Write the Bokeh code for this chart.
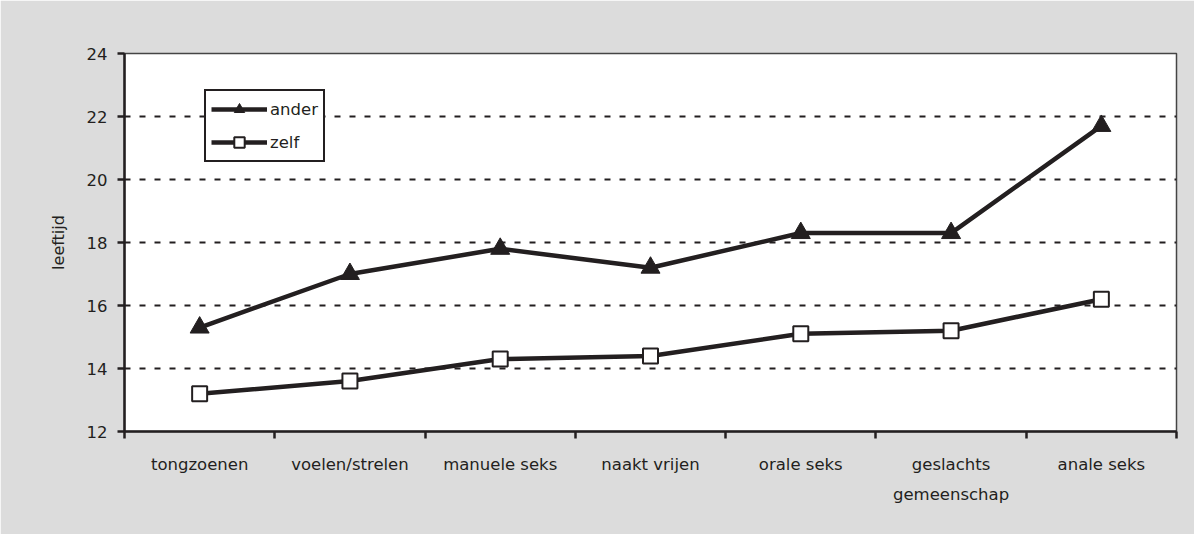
from bokeh.plotting import figure
from bokeh.models import Range1d, FixedTicker, Legend, LegendItem
from bokeh.embed import file_html
from bokeh.resources import INLINE

categories = ["tongzoenen", "voelen/strelen", "manuele seks", "naakt vrijen",
              "orale seks", "geslachts\ngemeenschap", "anale seks"]
ander = [15.3, 17.0, 17.8, 17.2, 18.3, 18.3, 21.7]
zelf = [13.2, 13.6, 14.3, 14.4, 15.1, 15.2, 16.2]
y_ticks = [12, 14, 16, 18, 20, 22, 24]

INK = "#231f20"
BG = "#dcdcdc"
FONT = "DejaVu Sans"

xs = [i + 0.5 for i in range(len(categories))]

p = figure(width=1194, height=534, output_backend="svg", toolbar_location=None,
           x_range=Range1d(0, len(categories)), y_range=Range1d(12, 24),
           min_border_left=124, min_border_right=18, min_border_top=53, min_border_bottom=103)
p.background_fill_color = "white"
p.border_fill_color = BG
p.outline_line_color = "#444444"
p.outline_line_width = 1.5

# axes
p.xaxis.ticker = FixedTicker(ticks=xs, minor_ticks=list(range(len(categories) + 1)))
p.xaxis.major_label_overrides = {x: c for x, c in zip(xs, categories)}
p.xaxis.major_tick_out = 0
p.xaxis.major_tick_in = 0
p.xaxis.minor_tick_out = 7
p.xaxis.minor_tick_in = 0
p.xaxis.minor_tick_line_width = 2.5
p.xaxis.minor_tick_line_color = INK
p.xaxis.major_label_standoff = 16
p.xaxis.major_label_text_line_height = 1.6

p.yaxis.ticker = FixedTicker(ticks=y_ticks)
p.yaxis.major_tick_out = 7
p.yaxis.major_tick_in = 0
p.yaxis.minor_tick_out = 0
p.yaxis.minor_tick_in = 0
p.yaxis.major_label_standoff = 10
p.yaxis.axis_label = "leeftijd"
p.yaxis.axis_label_standoff = 16
p.yaxis.axis_label_text_font_style = "normal"
p.yaxis.axis_label_text_font_size = "16px"
p.yaxis.axis_label_text_font = FONT
p.yaxis.axis_label_text_color = INK

for ax in (p.xaxis, p.yaxis):
    ax.axis_line_width = 2.5
    ax.axis_line_color = INK
    ax.major_tick_line_width = 2.5
    ax.major_tick_line_color = INK
    ax.major_label_text_font = FONT
    ax.major_label_text_font_size = "16.5px"
    ax.major_label_text_color = INK

p.xgrid.visible = False
p.ygrid.ticker = FixedTicker(ticks=y_ticks)
p.ygrid.grid_line_color = INK
p.ygrid.grid_line_width = 2.2
p.ygrid.grid_line_dash = "6 9"

# series
l1 = p.line(xs, ander, line_color=INK, line_width=4.5)
s1 = p.scatter(xs, ander, marker="triangle", size=19, fill_color=INK, line_color=INK)
l2 = p.line(xs, zelf, line_color=INK, line_width=4.5)
s2 = p.scatter(xs, zelf, marker="square", size=15, fill_color="white", line_color=INK, line_width=2)

legend = Legend(items=[LegendItem(label="ander", renderers=[l1, s1]),
                       LegendItem(label="zelf", renderers=[l2, s2])],
                location=(80, 269), glyph_width=56, glyph_height=26, spacing=7,
                padding=5, margin=0, label_standoff=3,
                label_text_font=FONT, label_text_font_size="16.5px", label_text_color=INK,
                border_line_color=INK, border_line_width=2, border_line_alpha=1.0,
                background_fill_color="white", background_fill_alpha=1.0)
p.add_layout(legend)

open("out.html", "w").write(file_html(p, INLINE))
